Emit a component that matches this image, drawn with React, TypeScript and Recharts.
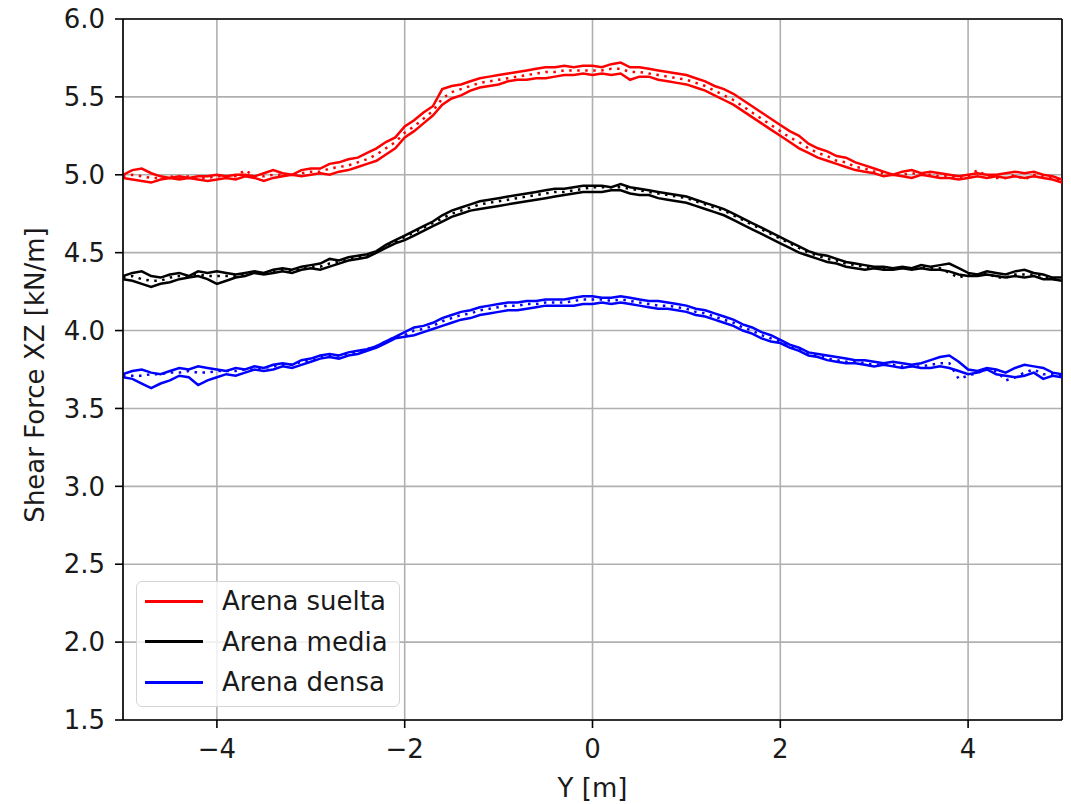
import { CartesianGrid, Label, Line, LineChart, ReferenceLine, XAxis, YAxis } from "recharts";

const positions = [
  -5.0, -4.9, -4.8, -4.7, -4.6, -4.5, -4.4, -4.3, -4.2, -4.1, -4.0, -3.9, -3.8, -3.7, -3.6, -3.5, -3.4, -3.3, -3.2, -3.1,
  -3.0, -2.9, -2.8, -2.7, -2.6, -2.5, -2.4, -2.3, -2.2, -2.1, -2.0, -1.9, -1.8, -1.7, -1.6, -1.5, -1.4, -1.3, -1.2, -1.1,
  -1.0, -0.9, -0.8, -0.7, -0.6, -0.5, -0.4, -0.3, -0.2, -0.1, 0.0, 0.1, 0.2, 0.3, 0.4, 0.5, 0.6, 0.7, 0.8, 0.9,
  1.0, 1.1, 1.2, 1.3, 1.4, 1.5, 1.6, 1.7, 1.8, 1.9, 2.0, 2.1, 2.2, 2.3, 2.4, 2.5, 2.6, 2.7, 2.8, 2.9,
  3.0, 3.1, 3.2, 3.3, 3.4, 3.5, 3.6, 3.7, 3.8, 3.9, 4.0, 4.1, 4.2, 4.3, 4.4, 4.5, 4.6, 4.7, 4.8, 4.9, 5.0,
];

// Arena suelta (red)
const sueltaA = [
  5.00, 5.03, 5.04, 5.01, 4.99, 4.98, 4.99, 4.98, 4.99, 4.99, 5.00, 4.99, 5.00, 5.00, 4.99, 5.01, 5.03, 5.01, 5.00, 5.03,
  5.04, 5.04, 5.07, 5.08, 5.10, 5.11, 5.14, 5.17, 5.21, 5.24, 5.31, 5.35, 5.40, 5.44, 5.55, 5.57, 5.58, 5.60, 5.62, 5.63,
  5.64, 5.65, 5.66, 5.67, 5.68, 5.69, 5.69, 5.70, 5.69, 5.70, 5.70, 5.69, 5.71, 5.72, 5.69, 5.69, 5.68, 5.67, 5.66, 5.65,
  5.64, 5.62, 5.60, 5.57, 5.55, 5.52, 5.48, 5.44, 5.40, 5.36, 5.32, 5.28, 5.25, 5.20, 5.17, 5.15, 5.12, 5.11, 5.08, 5.06,
  5.04, 5.02, 5.00, 5.02, 5.03, 5.01, 5.02, 5.01, 5.00, 4.99, 5.00, 5.01, 5.00, 5.00, 5.01, 5.02, 5.01, 5.02, 5.00, 4.99, 4.97,
];
const sueltaB = [
  4.98, 4.97, 4.96, 4.95, 4.97, 4.98, 4.97, 4.98, 4.97, 4.96, 4.97, 4.98, 4.97, 4.99, 4.98, 4.96, 4.98, 4.99, 5.00, 4.99,
  5.00, 5.01, 5.00, 5.02, 5.03, 5.05, 5.07, 5.09, 5.13, 5.17, 5.24, 5.28, 5.33, 5.38, 5.45, 5.49, 5.51, 5.54, 5.56, 5.57,
  5.58, 5.60, 5.61, 5.61, 5.62, 5.62, 5.63, 5.64, 5.64, 5.65, 5.64, 5.65, 5.64, 5.65, 5.61, 5.63, 5.63, 5.61, 5.60, 5.59,
  5.58, 5.56, 5.54, 5.51, 5.48, 5.45, 5.41, 5.37, 5.33, 5.29, 5.25, 5.21, 5.17, 5.14, 5.11, 5.09, 5.07, 5.05, 5.03, 5.02,
  5.01, 4.99, 5.00, 4.99, 4.98, 5.00, 4.99, 4.98, 4.98, 4.97, 4.98, 4.99, 4.98, 4.99, 4.98, 4.99, 4.98, 4.99, 4.98, 4.97, 4.95,
];
const sueltaMean = [
  4.99, 5.00, 4.99, 4.98, 4.98, 4.99, 4.98, 4.99, 4.98, 4.98, 4.99, 4.99, 4.99, 5.03, 4.99, 4.99, 5.00, 5.00, 5.00, 5.01,
  5.02, 5.02, 5.04, 5.05, 5.06, 5.08, 5.10, 5.13, 5.17, 5.21, 5.27, 5.31, 5.36, 5.41, 5.49, 5.53, 5.55, 5.57, 5.59, 5.60,
  5.61, 5.62, 5.63, 5.64, 5.65, 5.66, 5.66, 5.67, 5.67, 5.67, 5.67, 5.67, 5.68, 5.68, 5.66, 5.66, 5.65, 5.64, 5.63, 5.62,
  5.61, 5.59, 5.57, 5.54, 5.51, 5.48, 5.44, 5.40, 5.36, 5.32, 5.28, 5.24, 5.21, 5.17, 5.14, 5.12, 5.09, 5.08, 5.05, 5.04,
  5.02, 5.01, 5.00, 5.00, 5.01, 5.00, 5.00, 4.99, 4.99, 4.98, 4.99, 5.03, 4.99, 4.98, 4.98, 5.00, 4.97, 5.00, 4.99, 4.98, 4.96,
];

// Arena media (black)
const mediaA = [
  4.35, 4.37, 4.38, 4.35, 4.34, 4.36, 4.37, 4.35, 4.38, 4.37, 4.38, 4.37, 4.36, 4.37, 4.38, 4.37, 4.39, 4.40, 4.39, 4.41,
  4.42, 4.43, 4.46, 4.45, 4.47, 4.48, 4.49, 4.51, 4.55, 4.58, 4.61, 4.64, 4.67, 4.70, 4.74, 4.77, 4.79, 4.81, 4.83, 4.84,
  4.85, 4.86, 4.87, 4.88, 4.89, 4.90, 4.91, 4.91, 4.92, 4.93, 4.93, 4.93, 4.92, 4.94, 4.92, 4.91, 4.90, 4.89, 4.88, 4.87,
  4.86, 4.84, 4.82, 4.80, 4.78, 4.75, 4.72, 4.69, 4.66, 4.63, 4.60, 4.57, 4.54, 4.51, 4.49, 4.48, 4.46, 4.44, 4.43, 4.42,
  4.41, 4.41, 4.40, 4.41, 4.40, 4.42, 4.41, 4.42, 4.43, 4.40, 4.37, 4.36, 4.38, 4.37, 4.36, 4.38, 4.39, 4.37, 4.36, 4.34, 4.34,
];
const mediaB = [
  4.33, 4.32, 4.30, 4.28, 4.30, 4.31, 4.33, 4.34, 4.35, 4.33, 4.30, 4.32, 4.34, 4.35, 4.37, 4.36, 4.37, 4.38, 4.37, 4.39,
  4.40, 4.39, 4.41, 4.43, 4.45, 4.46, 4.47, 4.50, 4.53, 4.56, 4.58, 4.61, 4.64, 4.67, 4.70, 4.73, 4.75, 4.77, 4.78, 4.79,
  4.80, 4.81, 4.82, 4.83, 4.84, 4.85, 4.86, 4.87, 4.88, 4.89, 4.89, 4.89, 4.90, 4.90, 4.88, 4.87, 4.87, 4.85, 4.84, 4.83,
  4.82, 4.80, 4.78, 4.76, 4.74, 4.71, 4.68, 4.65, 4.62, 4.59, 4.56, 4.53, 4.50, 4.48, 4.46, 4.44, 4.43, 4.41, 4.40, 4.39,
  4.40, 4.39, 4.39, 4.40, 4.39, 4.40, 4.39, 4.39, 4.38, 4.36, 4.35, 4.35, 4.36, 4.35, 4.34, 4.35, 4.34, 4.35, 4.33, 4.33, 4.32,
];
const mediaMean = [
  4.34, 4.35, 4.33, 4.32, 4.32, 4.34, 4.35, 4.35, 4.36, 4.35, 4.35, 4.35, 4.35, 4.36, 4.37, 4.37, 4.38, 4.39, 4.38, 4.40,
  4.41, 4.41, 4.43, 4.44, 4.46, 4.47, 4.48, 4.50, 4.54, 4.57, 4.60, 4.63, 4.66, 4.69, 4.72, 4.75, 4.77, 4.79, 4.81, 4.82,
  4.83, 4.84, 4.85, 4.86, 4.87, 4.88, 4.89, 4.89, 4.90, 4.91, 4.92, 4.92, 4.92, 4.92, 4.91, 4.90, 4.89, 4.88, 4.87, 4.86,
  4.85, 4.83, 4.81, 4.79, 4.77, 4.74, 4.71, 4.68, 4.65, 4.62, 4.59, 4.56, 4.53, 4.50, 4.48, 4.46, 4.45, 4.43, 4.42, 4.41,
  4.40, 4.40, 4.40, 4.40, 4.40, 4.41, 4.40, 4.40, 4.37, 4.34, 4.36, 4.36, 4.37, 4.34, 4.34, 4.36, 4.36, 4.36, 4.35, 4.33, 4.33,
];

// Arena densa (blue)
const densaA = [
  3.72, 3.74, 3.75, 3.73, 3.72, 3.74, 3.76, 3.75, 3.77, 3.76, 3.75, 3.74, 3.76, 3.75, 3.77, 3.76, 3.78, 3.79, 3.78, 3.81,
  3.82, 3.84, 3.85, 3.84, 3.86, 3.87, 3.88, 3.90, 3.93, 3.96, 3.99, 4.02, 4.03, 4.05, 4.08, 4.10, 4.12, 4.13, 4.15, 4.16,
  4.17, 4.18, 4.18, 4.19, 4.19, 4.20, 4.20, 4.20, 4.21, 4.22, 4.22, 4.21, 4.21, 4.22, 4.21, 4.20, 4.19, 4.19, 4.18, 4.17,
  4.16, 4.14, 4.13, 4.11, 4.09, 4.07, 4.04, 4.02, 3.99, 3.97, 3.94, 3.91, 3.89, 3.86, 3.85, 3.84, 3.83, 3.82, 3.81, 3.81,
  3.80, 3.79, 3.80, 3.79, 3.78, 3.79, 3.81, 3.83, 3.84, 3.80, 3.75, 3.74, 3.76, 3.75, 3.73, 3.76, 3.78, 3.77, 3.76, 3.73, 3.72,
];
const densaB = [
  3.70, 3.69, 3.66, 3.63, 3.66, 3.68, 3.71, 3.70, 3.65, 3.68, 3.70, 3.72, 3.71, 3.73, 3.75, 3.74, 3.75, 3.77, 3.76, 3.78,
  3.80, 3.82, 3.83, 3.82, 3.84, 3.85, 3.87, 3.89, 3.92, 3.95, 3.96, 3.97, 3.99, 4.01, 4.03, 4.05, 4.07, 4.08, 4.10, 4.11,
  4.12, 4.13, 4.13, 4.14, 4.15, 4.16, 4.16, 4.16, 4.16, 4.17, 4.17, 4.18, 4.17, 4.18, 4.17, 4.16, 4.15, 4.14, 4.14, 4.13,
  4.12, 4.10, 4.09, 4.07, 4.05, 4.03, 4.00, 3.98, 3.95, 3.93, 3.92, 3.89, 3.87, 3.84, 3.83, 3.81, 3.80, 3.79, 3.79, 3.78,
  3.77, 3.78, 3.77, 3.76, 3.77, 3.76, 3.76, 3.77, 3.76, 3.74, 3.72, 3.73, 3.75, 3.72, 3.71, 3.70, 3.71, 3.73, 3.69, 3.71, 3.70,
];
const densaMean = [
  3.71, 3.71, 3.71, 3.72, 3.72, 3.73, 3.73, 3.74, 3.73, 3.73, 3.74, 3.74, 3.74, 3.75, 3.75, 3.76, 3.77, 3.78, 3.78, 3.80,
  3.81, 3.83, 3.84, 3.84, 3.85, 3.86, 3.88, 3.90, 3.93, 3.96, 3.97, 4.00, 4.01, 4.03, 4.06, 4.08, 4.10, 4.11, 4.13, 4.14,
  4.15, 4.16, 4.16, 4.17, 4.17, 4.18, 4.18, 4.18, 4.19, 4.20, 4.20, 4.20, 4.19, 4.20, 4.19, 4.18, 4.17, 4.16, 4.16, 4.15,
  4.14, 4.12, 4.11, 4.09, 4.07, 4.05, 4.02, 4.00, 3.97, 3.95, 3.93, 3.90, 3.88, 3.85, 3.84, 3.82, 3.81, 3.80, 3.80, 3.79,
  3.78, 3.78, 3.78, 3.77, 3.77, 3.77, 3.78, 3.79, 3.79, 3.69, 3.71, 3.73, 3.75, 3.74, 3.68, 3.70, 3.73, 3.75, 3.72, 3.72, 3.71,
];

const xTicks = [-4, -2, 0, 2, 4];
const yTicks = [1.5, 2.0, 2.5, 3.0, 3.5, 4.0, 4.5, 5.0, 5.5, 6.0];

const legendItems = [
  { name: "Arena suelta", color: "#ff0000" },
  { name: "Arena media", color: "#000000" },
  { name: "Arena densa", color: "#0000ff" },
];

const groups = [
  { key: "suelta", color: "#ff0000", a: sueltaA, b: sueltaB, m: sueltaMean },
  { key: "media", color: "#000000", a: mediaA, b: mediaB, m: mediaMean },
  { key: "densa", color: "#0000ff", a: densaA, b: densaB, m: densaMean },
];

const rows = positions.map((y, i) => {
  const row: Record<string, number> = { y };
  groups.forEach((g) => {
    row[g.key + "A"] = g.a[i];
    row[g.key + "B"] = g.b[i];
    row[g.key + "M"] = g.m[i];
  });
  return row;
});

const font = "'DejaVu Sans', sans-serif";
const textColor = "#1a1a1a";
const tickStyle = { fontSize: 26, fill: textColor, fontFamily: font };

export default function App() {
  return (
    <div style={{ position: "absolute", left: 0, top: 0, width: 1071, height: 804, background: "#fff", fontFamily: font }}>
      <LineChart width={1071} height={804} data={rows} margin={{ top: 19, right: 9, left: 0, bottom: 0 }}>
        <CartesianGrid stroke="#b0b0b0" strokeWidth={1.6} />
        <XAxis
          type="number"
          dataKey="y"
          domain={[-5, 5]}
          ticks={xTicks}
          allowDataOverflow
          height={84}
          tickSize={8}
          tickMargin={12}
          axisLine={{ stroke: "#000", strokeWidth: 1.6 }}
          tickLine={{ stroke: "#000", strokeWidth: 1.6 }}
          tick={tickStyle}
          tickFormatter={(v: number) => (v < 0 ? "\u2212" + Math.abs(v) : String(v))}
        >
          <Label value="Y [m]" position="insideBottom" offset={7} style={{ fontSize: 26, fill: textColor, fontFamily: font }} />
        </XAxis>
        <YAxis
          type="number"
          domain={[1.5, 6]}
          ticks={yTicks}
          allowDataOverflow
          width={123}
          tickSize={8}
          tickMargin={10}
          axisLine={{ stroke: "#000", strokeWidth: 1.6 }}
          tickLine={{ stroke: "#000", strokeWidth: 1.6 }}
          tick={tickStyle}
          tickFormatter={(v: number) => v.toFixed(1)}
        >
          <Label
            content={() => (
              <text x={44} y={375} transform="rotate(-90 44 375)" textAnchor="middle" fontSize={26} fill={textColor} fontFamily={font}>
                Shear Force XZ [kN/m]
              </text>
            )}
          />
        </YAxis>
        <ReferenceLine y={6} stroke="#000" strokeWidth={1.6} />
        <ReferenceLine x={5} stroke="#000" strokeWidth={1.6} />
        {groups.map((g) => [
          <Line key={g.key + "A"} dataKey={g.key + "A"} type="linear" stroke={g.color} strokeWidth={2.5} dot={false} isAnimationActive={false} />,
          <Line key={g.key + "B"} dataKey={g.key + "B"} type="linear" stroke={g.color} strokeWidth={2.5} dot={false} isAnimationActive={false} />,
          <Line key={g.key + "M"} dataKey={g.key + "M"} type="linear" stroke={g.color} strokeWidth={2.5} strokeDasharray="2.5 5.5" dot={false} isAnimationActive={false} />,
        ])}
      </LineChart>
      <div
        style={{
          position: "absolute",
          left: 136,
          top: 581,
          width: 264,
          height: 126,
          border: "1.5px solid #d5d5d5",
          borderRadius: 6,
          background: "rgba(255,255,255,0.8)",
          boxSizing: "border-box",
        }}
      >
        {legendItems.map((item, i) => (
          <div key={item.name} style={{ position: "absolute", left: 8, top: 19 + i * 40.5 - 14, height: 28, display: "flex", alignItems: "center" }}>
            <div style={{ width: 58, height: 3, background: item.color }} />
            <span style={{ marginLeft: 19, fontSize: 26, color: textColor, whiteSpace: "nowrap", lineHeight: "28px" }}>{item.name}</span>
          </div>
        ))}
      </div>
    </div>
  );
}
